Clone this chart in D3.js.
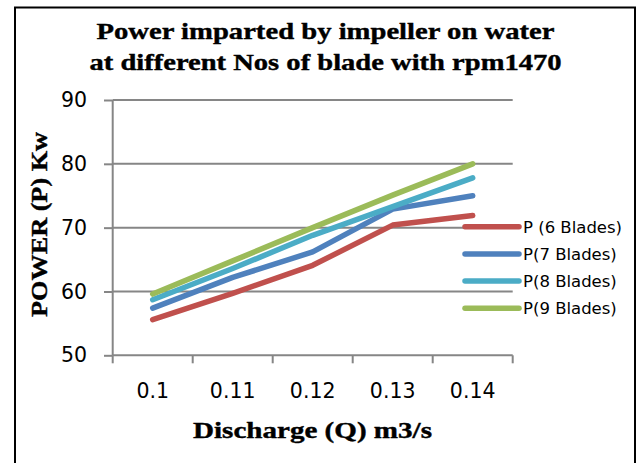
<!DOCTYPE html>
<html>
<head>
<meta charset="utf-8">
<script src="https://cdn.jsdelivr.net/npm/d3@7"></script>
<style>
  body { margin: 0; background: #fff; }
  svg { display: block; }
</style>
</head>
<body>
<svg id="chart" width="641" height="463"></svg>
<script>
// discharge categories (m3/s)
var categories = ["0.1", "0.11", "0.12", "0.13", "0.14"];
var seriesNames = ["P (6 Blades)", "P(7 Blades)", "P(8 Blades)", "P(9 Blades)"];
var blades6 = [55.6, 59.7, 64.1, 70.4, 71.9];
var blades7 = [57.4, 62.2, 66.2, 72.9, 75.0];
var blades8 = [58.7, 63.6, 68.8, 73.3, 77.8];
var blades9 = [59.6, 64.8, 70.0, 75.1, 80.0];
var yTicks = [50, 60, 70, 80, 90];
var seriesColors = ["#c0504d", "#4f81bd", "#4bacc6", "#9bbb59"];

var series = [blades6, blades7, blades8, blades9].map(function(vals, i) {
  return {name: seriesNames[i], color: seriesColors[i], values: vals};
});

var svg = d3.select("svg#chart");
var plot = {left: 112.7, right: 512.7, top: 100, bottom: 355.3};

var x = d3.scaleBand().domain(categories).range([plot.left, plot.right]),
  y = d3.scaleLinear().domain([50, 90]).range([plot.bottom, plot.top]);

// outer frame
svg.append("rect")
  .attr("x", 15).attr("y", 7.5)
  .attr("width", 620).attr("height", 470)
  .attr("fill", "none")
  .attr("stroke", "#000")
  .attr("stroke-width", 2);

// title
var title = ["Power imparted by impeller on water", "at different Nos of blade with rpm1470"];
var titleWidths = [458, 472];
svg.selectAll(".title")
  .data(title)
  .enter().append("text")
  .attr("class", "title")
  .attr("x", 325.5)
  .attr("y", function(d, i) { return 38.5 + i * 31; })
  .attr("text-anchor", "middle")
  .attr("textLength", function(d, i) { return titleWidths[i]; })
  .attr("lengthAdjust", "spacingAndGlyphs")
  .style("font", "bold 24px 'Liberation Serif'")
  .style("stroke", "#000")
  .style("stroke-width", 0.4)
  .text(function(d) { return d; });

// y axis with gridlines
var yAxis = svg.append("g")
  .attr("transform", "translate(" + plot.left + ",0)")
  .call(d3.axisLeft(y).tickValues(yTicks).tickSize(8.7).tickPadding(17));
yAxis.select(".domain").remove();
yAxis.selectAll("line").attr("stroke", "#868686").attr("stroke-width", 2);
yAxis.selectAll("text")
  .attr("fill", "#000")
  .style("font", "20.5px 'DejaVu Sans'");

svg.append("g")
  .selectAll("line")
  .data(yTicks)
  .enter().append("line")
  .attr("x1", plot.left).attr("x2", plot.right)
  .attr("y1", function(d) { return y(d); })
  .attr("y2", function(d) { return y(d); })
  .attr("stroke", "#868686")
  .attr("stroke-width", 2);

svg.append("line")
  .attr("x1", plot.left).attr("x2", plot.left)
  .attr("y1", plot.top).attr("y2", plot.bottom)
  .attr("stroke", "#868686")
  .attr("stroke-width", 2);

// x axis: category ticks on band edges
var xAxis = svg.append("g")
  .attr("transform", "translate(0," + plot.bottom + ")")
  .call(d3.axisBottom(x).tickSize(0).tickPadding(28));
xAxis.select(".domain").remove();
xAxis.selectAll("text")
  .attr("fill", "#000")
  .style("font", "20.5px 'DejaVu Sans'");

var edges = categories.map(function(c) { return x(c); }).concat([plot.right]);
xAxis.selectAll(".edge")
  .data(edges)
  .enter().append("line")
  .attr("class", "edge")
  .attr("x1", function(d) { return d; }).attr("x2", function(d) { return d; })
  .attr("y1", 0).attr("y2", 8)
  .attr("stroke", "#868686")
  .attr("stroke-width", 2);

// axis titles
svg.append("text")
  .attr("x", 312.5).attr("y", 438)
  .attr("text-anchor", "middle")
  .attr("textLength", 239)
  .attr("lengthAdjust", "spacingAndGlyphs")
  .style("font", "bold 23.5px 'Liberation Serif'")
  .style("stroke", "#000")
  .style("stroke-width", 0.4)
  .text("Discharge (Q) m3/s");

svg.append("text")
  .attr("transform", "translate(47,224.5) rotate(-90)")
  .attr("text-anchor", "middle")
  .attr("textLength", 185)
  .attr("lengthAdjust", "spacingAndGlyphs")
  .style("font", "bold 23.5px 'Liberation Serif'")
  .style("stroke", "#000")
  .style("stroke-width", 0.4)
  .text("POWER (P) Kw");

// lines
var line = d3.line()
  .x(function(d, i) { return x(categories[i]) + x.bandwidth() / 2; })
  .y(function(d) { return y(d); });

svg.append("g")
  .selectAll("path")
  .data(series)
  .enter().append("path")
  .attr("d", function(d) { return line(d.values); })
  .attr("fill", "none")
  .attr("stroke", function(d) { return d.color; })
  .attr("stroke-width", 5.5)
  .attr("stroke-linecap", "round")
  .attr("stroke-linejoin", "round");

// legend
var legend = svg.append("g")
  .selectAll("g")
  .data(series)
  .enter().append("g")
  .attr("transform", function(d, i) { return "translate(465," + (226.7 + i * 27.2) + ")"; });

legend.append("line")
  .attr("x1", 0).attr("x2", 54)
  .attr("stroke", function(d) { return d.color; })
  .attr("stroke-width", 5.5)
  .attr("stroke-linecap", "round");

legend.append("text")
  .attr("x", 58)
  .attr("dy", "0.36em")
  .style("font", "16.5px 'DejaVu Sans'")
  .text(function(d) { return d.name; });
</script>
</body>
</html>
